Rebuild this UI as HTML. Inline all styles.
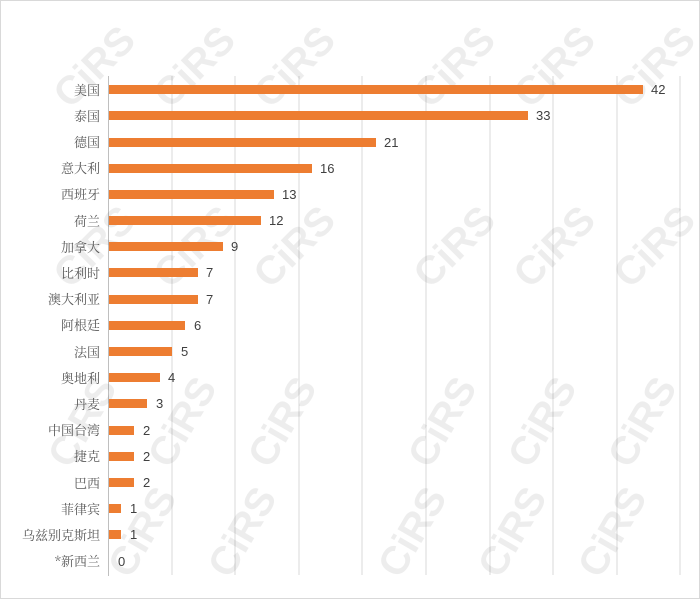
<!DOCTYPE html>
<html><head><meta charset="utf-8"><style>
body{margin:0;background:#fff;}
</style></head><body>
<svg width="700" height="599" xmlns="http://www.w3.org/2000/svg" font-family="'Liberation Sans','Noto Sans CJK SC',sans-serif">
<rect x="0.5" y="0.5" width="699" height="598" fill="#fff" stroke="#d9d9d9"/>
<g stroke="#d9d9d9" stroke-width="1">
<line x1="172" y1="76" x2="172" y2="575"/><line x1="235" y1="76" x2="235" y2="575"/>
<line x1="299" y1="76" x2="299" y2="575"/><line x1="362" y1="76" x2="362" y2="575"/>
<line x1="426" y1="76" x2="426" y2="575"/><line x1="490" y1="76" x2="490" y2="575"/>
<line x1="553" y1="76" x2="553" y2="575"/><line x1="617" y1="76" x2="617" y2="575"/>
<line x1="680" y1="76" x2="680" y2="575"/>
</g>
<line x1="108.5" y1="76" x2="108.5" y2="576" stroke="#bfbfbf"/>
<g id="wm" fill="#000" fill-opacity="0.07" font-size="40" font-weight="bold" font-family="'Liberation Sans',sans-serif">
<text transform="translate(70,110) rotate(-45)">CiRS</text>
<text transform="translate(170,110) rotate(-45)">CiRS</text>
<text transform="translate(270,110) rotate(-45)">CiRS</text>
<text transform="translate(430,110) rotate(-45)">CiRS</text>
<text transform="translate(530,110) rotate(-45)">CiRS</text>
<text transform="translate(630,110) rotate(-45)">CiRS</text>
<text transform="translate(70,290) rotate(-45)">CiRS</text>
<text transform="translate(170,290) rotate(-45)">CiRS</text>
<text transform="translate(270,290) rotate(-45)">CiRS</text>
<text transform="translate(430,290) rotate(-45)">CiRS</text>
<text transform="translate(530,290) rotate(-45)">CiRS</text>
<text transform="translate(630,290) rotate(-45)">CiRS</text>
<text transform="translate(70,470) rotate(-60)">CiRS</text>
<text transform="translate(170,470) rotate(-60)">CiRS</text>
<text transform="translate(270,470) rotate(-60)">CiRS</text>
<text transform="translate(430,470) rotate(-60)">CiRS</text>
<text transform="translate(530,470) rotate(-60)">CiRS</text>
<text transform="translate(630,470) rotate(-60)">CiRS</text>
<text transform="translate(130,580) rotate(-60)">CiRS</text>
<text transform="translate(230,580) rotate(-60)">CiRS</text>
<text transform="translate(400,580) rotate(-60)">CiRS</text>
<text transform="translate(500,580) rotate(-60)">CiRS</text>
<text transform="translate(600,580) rotate(-60)">CiRS</text>
</g>
<g fill="#ed7d31">
<rect x="109" y="85" width="534" height="9"/>
<rect x="109" y="111" width="419" height="9"/>
<rect x="109" y="138" width="267" height="9"/>
<rect x="109" y="164" width="203" height="9"/>
<rect x="109" y="190" width="165" height="9"/>
<rect x="109" y="216" width="152" height="9"/>
<rect x="109" y="242" width="114" height="9"/>
<rect x="109" y="268" width="89" height="9"/>
<rect x="109" y="295" width="89" height="9"/>
<rect x="109" y="321" width="76" height="9"/>
<rect x="109" y="347" width="63" height="9"/>
<rect x="109" y="373" width="51" height="9"/>
<rect x="109" y="399" width="38" height="9"/>
<rect x="109" y="426" width="25" height="9"/>
<rect x="109" y="452" width="25" height="9"/>
<rect x="109" y="478" width="25" height="9"/>
<rect x="109" y="504" width="12" height="9"/>
<rect x="109" y="530" width="12" height="9"/>
</g>
<g font-size="13" fill="#404040">
<text x="651" y="94">42</text><text x="536" y="120">33</text><text x="384" y="147">21</text>
<text x="320" y="173">16</text><text x="282" y="199">13</text><text x="269" y="225">12</text>
<text x="231" y="251">9</text><text x="206" y="277">7</text><text x="206" y="304">7</text>
<text x="194" y="330">6</text><text x="181" y="356">5</text><text x="168" y="382">4</text>
<text x="156" y="408">3</text><text x="143" y="435">2</text><text x="143" y="461">2</text>
<text x="143" y="487">2</text><text x="130" y="513">1</text><text x="130" y="539">1</text>
<text x="118" y="566">0</text>
</g>
<g font-size="13" fill="#595959" text-anchor="end" font-family="'Noto Serif CJK SC','Liberation Serif',serif">
<text x="100" y="95">美国</text><text x="100" y="121">泰国</text><text x="100" y="147">德国</text>
<text x="100" y="173">意大利</text><text x="100" y="199">西班牙</text><text x="100" y="226">荷兰</text>
<text x="100" y="252">加拿大</text><text x="100" y="278">比利时</text><text x="100" y="304">澳大利亚</text>
<text x="100" y="330">阿根廷</text><text x="100" y="357">法国</text><text x="100" y="383">奥地利</text>
<text x="100" y="409">丹麦</text><text x="100" y="435">中国台湾</text><text x="100" y="461">捷克</text>
<text x="100" y="488">巴西</text><text x="100" y="514">菲律宾</text><text x="100" y="540">乌兹别克斯坦</text>
<text x="100" y="566">*新西兰</text>
</g>
</svg>
</body></html>
